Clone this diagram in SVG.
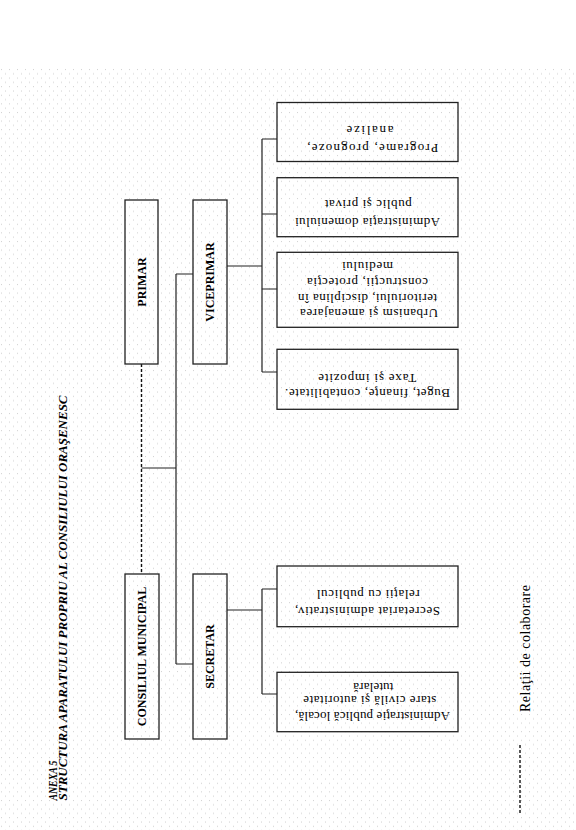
<svg xmlns="http://www.w3.org/2000/svg" width="576" height="830" viewBox="0 0 576 830">
<defs>
<pattern id="dots" x="0" y="68" width="8" height="8.6" patternUnits="userSpaceOnUse">
<rect x="1" y="1" width="1" height="1" fill="#cfcfcf"/>
<rect x="5" y="5.3" width="1" height="1" fill="#cfcfcf"/>
</pattern>
</defs>
<style>
.box{fill:none;stroke:#222;stroke-width:1.3}
.ln{fill:none;stroke:#222;stroke-width:1.2}
.dash{fill:none;stroke:#111;stroke-width:1.4;stroke-dasharray:3 2}
.lab{font-family:"Liberation Serif","Times New Roman",serif;font-weight:bold;font-size:12px;fill:#000}
.ttl{font-family:"Liberation Serif","Times New Roman",serif;font-weight:bold;font-style:italic;font-size:12.5px;fill:#000}
.sm{font-family:"Liberation Serif","Times New Roman",serif;font-size:13px;fill:#000;text-anchor:middle}
.leg{font-family:"Liberation Serif","Times New Roman",serif;font-size:14px;fill:#000}
</style>
<rect x="0" y="0" width="576" height="830" fill="#fff"/>
<rect x="0" y="68" width="576" height="762" fill="url(#dots)"/>

<g id="title">
<text class="ttl" transform="translate(57,800.5) rotate(-90)" textLength="40" lengthAdjust="spacingAndGlyphs">ANEXA 5</text>
<text class="ttl" transform="translate(67,800.5) rotate(-90)" textLength="405" lengthAdjust="spacingAndGlyphs">STRUCTURA APARATULUI PROPRIU AL CONSILIULUI ORAŞENESC</text>
</g>

<g id="connectors">
<path class="dash" d="M141.5 364V574"/>
<path class="ln" d="M141.5 468H176M176 274V664M176 274H193M176 664H193"/>
<path class="ln" d="M227 266H262M262 139V372M262 139H277M262 214H277M262 289H277M262 372H277"/>
<path class="ln" d="M227 610H262M262 589V694M262 589H277M262 694H277"/>
</g>

<g id="primar">
<rect class="box" x="125" y="200" width="33" height="164"/>
<text class="lab" transform="translate(145.5,282) rotate(-90)" text-anchor="middle">PRIMAR</text>
</g>
<g id="viceprimar">
<rect class="box" x="193" y="200" width="34" height="164"/>
<text class="lab" transform="translate(214,282) rotate(-90)" text-anchor="middle">VICEPRIMAR</text>
</g>
<g id="consiliul">
<rect class="box" x="125" y="574" width="34" height="165"/>
<text class="lab" transform="translate(146,656.5) rotate(-90)" text-anchor="middle">CONSILIUL MUNICIPAL</text>
</g>
<g id="secretar">
<rect class="box" x="193" y="574" width="34" height="165"/>
<text class="lab" transform="translate(214,656.5) rotate(-90)" text-anchor="middle">SECRETAR</text>
</g>

<g id="programe">
<rect class="box" x="277" y="102.5" width="181" height="59"/>
<text class="sm" x="372.8" y="150" transform="rotate(180 372.8 147)" textLength="131">Programe, prognoze,</text>
<text class="sm" x="370" y="132" transform="rotate(180 370 129)" textLength="47">analize</text>
</g>
<g id="domeniu">
<rect class="box" x="277" y="177.7" width="181" height="59"/>
<text class="sm" x="367.5" y="223.7" transform="rotate(180 367.5 220.7)" textLength="145">Administraţia domeniului</text>
<text class="sm" x="368.3" y="206" transform="rotate(180 368.3 203)" textLength="87">public şi privat</text>
</g>
<g id="urbanism">
<rect class="box" x="277" y="252.3" width="181" height="75"/>
<text class="sm" x="369" y="314.7" transform="rotate(180 369 311.7)" textLength="138">Urbanism şi amenajarea</text>
<text class="sm" x="367.5" y="299.7" transform="rotate(180 367.5 296.7)" textLength="139">teritoriului, disciplina în</text>
<text class="sm" x="367.5" y="283.7" transform="rotate(180 367.5 280.7)" textLength="121">construcţii, protecţia</text>
<text class="sm" x="367.5" y="268" transform="rotate(180 367.5 265)" textLength="51">mediului</text>
</g>
<g id="buget">
<rect class="box" x="277" y="349.3" width="181" height="60"/>
<text class="sm" x="367.5" y="394.7" transform="rotate(180 367.5 391.7)" textLength="165">Buget, finanţe, contabilitate.</text>
<text class="sm" x="367.3" y="380.3" transform="rotate(180 367.3 377.3)" textLength="98">Taxe şi impozite</text>
</g>
<g id="secretariat">
<rect class="box" x="277" y="566" width="181" height="60.7"/>
<text class="sm" x="367.5" y="613" transform="rotate(180 367.5 610)" textLength="145">Secretariat administrativ,</text>
<text class="sm" x="368.3" y="596.3" transform="rotate(180 368.3 593.3)" textLength="103">relaţii cu publicul</text>
</g>
<g id="admin-publica">
<rect class="box" x="277" y="672.3" width="181" height="59.4"/>
<text class="sm" x="372.5" y="718" transform="rotate(180 372.5 715)" textLength="155">Administraţie publică locală,</text>
<text class="sm" x="369.8" y="702.3" transform="rotate(180 369.8 699.3)" textLength="133">stare civilă şi autoritate</text>
<text class="sm" x="373.3" y="689" transform="rotate(180 373.3 686)" textLength="40">tutelară</text>
</g>

<g id="legend">
<path class="dash" d="M520 745V815"/>
<text class="leg" transform="translate(530,712) rotate(-90)" textLength="127">Relaţii de colaborare</text>
</g>
</svg>
